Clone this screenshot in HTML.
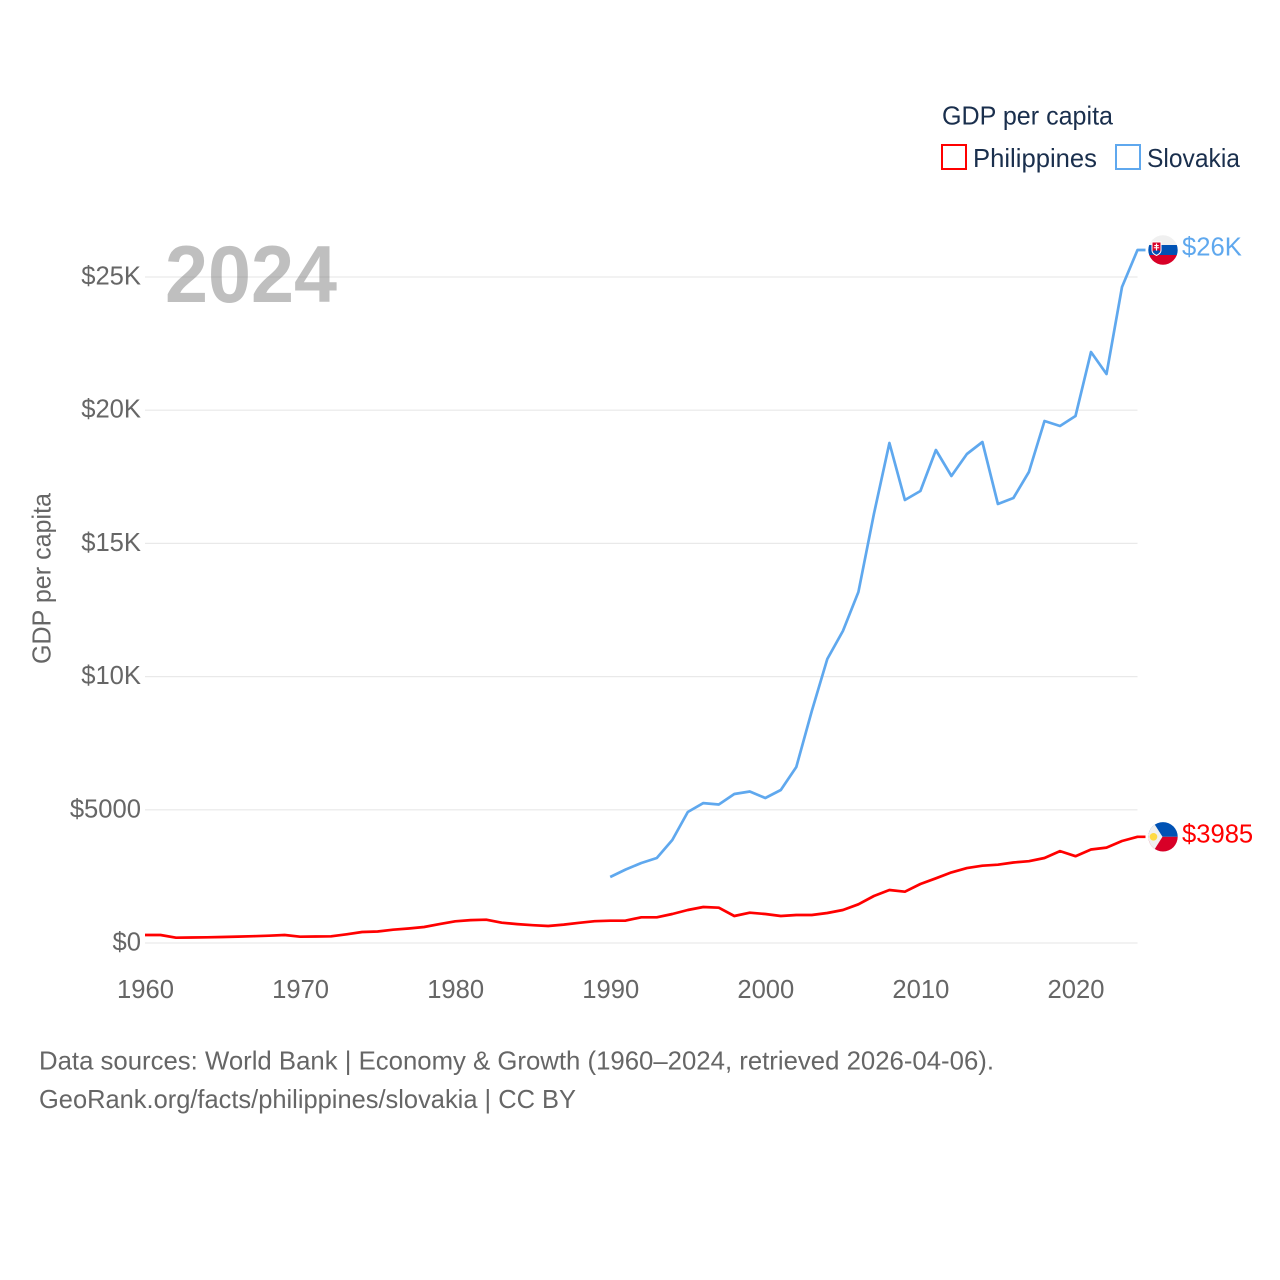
<!DOCTYPE html>
<html lang="en">
<head>
<meta charset="utf-8">
<title>GDP per capita: Philippines and Slovakia</title>
<style>
html,body{margin:0;padding:0;background:#fff;}
svg{display:block;font-family:"Liberation Sans",sans-serif;}
</style>
</head>
<body>
<svg id="chart" xmlns="http://www.w3.org/2000/svg" width="1280" height="1280" viewBox="0 0 1280 1280">
  <rect width="1280" height="1280" fill="#ffffff"/>
  <g id="grid"></g>
  <text x="165" y="302" font-size="81" font-weight="700" fill="#7f7f7f" fill-opacity="0.5" textLength="172" lengthAdjust="spacingAndGlyphs">2024</text>
  <g id="y-ticks"></g>
  <g id="x-ticks"></g>
  <text transform="translate(50.5,578.5) rotate(-90)" text-anchor="middle" font-size="25.6" fill="#666666" textLength="171" lengthAdjust="spacingAndGlyphs">GDP per capita</text>
  <g id="series"></g>
  <g>
    <text x="942" y="124.5" font-size="25.6" fill="#1a2f4d" textLength="171" lengthAdjust="spacingAndGlyphs">GDP per capita</text>
    <rect x="942" y="145" width="24" height="24" fill="#ffffff" stroke="#ff0000" stroke-width="2"/>
    <text x="973" y="167" font-size="25.6" fill="#1a2f4d" textLength="124" lengthAdjust="spacingAndGlyphs">Philippines</text>
    <rect x="1116" y="145" width="24" height="24" fill="#ffffff" stroke="#5fa8ee" stroke-width="2"/>
    <text x="1147" y="167" font-size="25.6" fill="#1a2f4d" textLength="93" lengthAdjust="spacingAndGlyphs">Slovakia</text>
  </g>
  <g>
    <text x="39" y="1069.5" font-size="25.6" fill="#666666" textLength="955" lengthAdjust="spacingAndGlyphs">Data sources: World Bank | Economy &amp; Growth (1960–2024, retrieved 2026-04-06).</text>
    <text x="39" y="1108" font-size="25.6" fill="#666666" textLength="537" lengthAdjust="spacingAndGlyphs">GeoRank.org/facts/philippines/slovakia | CC BY</text>
  </g>
</svg>
<script>
const philippinesStartYear = 1960;
const philippinesValues = [300,300,200,208,215,225,240,255,275,300,235,245,251,326,413,430,500,545,600,710,815,860,875,762,710,670,640,690,760,820,837,840,965,965,1089,1239,1351,1325,1014,1137,1089,1014,1051,1051,1126,1239,1453,1764,1989,1926,2215,2430,2650,2810,2900,2940,3020,3070,3190,3450,3260,3510,3580,3830,3985];
const slovakiaStartYear = 1990;
const slovakiaValues = [2477,2760,3003,3191,3866,4917,5250,5199,5593,5687,5443,5743,6607,8709,10661,11712,13176,16104,18769,16629,16967,18506,17530,18356,18806,16479,16704,17680,19595,19407,19782,22185,21359,24625,26014];
const yTickValues = [0,5000,10000,15000,20000,25000];
const yTickLabels = ['$0','$5000','$10K','$15K','$20K','$25K'];
const xTickYears = [1960,1970,1980,1990,2000,2010,2020];

const NS = 'http://www.w3.org/2000/svg';
function xScale(year){ return 145 + (year - 1960) * (992.5 / 64); }
function yScale(value){ return 943 - value * (666 / 25000); }
function make(tag, parent, attrs){
  const el = document.createElementNS(NS, tag);
  for (const k in attrs) el.setAttribute(k, attrs[k]);
  parent.appendChild(el);
  return el;
}
function formatValue(v){ return v >= 10000 ? '$' + Math.round(v / 1000) + 'K' : '$' + Math.round(v); }

const grid = document.getElementById('grid');
const yTicks = document.getElementById('y-ticks');
yTickValues.forEach(function(v, i){
  const line = make('line', grid, {x1:145, x2:1137.5, y1:yScale(v), y2:yScale(v), stroke:'#e9e9e9', 'stroke-width':1.2});
  
  
  const t = make('text', yTicks, {x:141, y:yScale(v) + 7.5, 'text-anchor':'end', 'font-size':25.6, fill:'#666666'});
  
  
  t.textContent = yTickLabels[i];
});

const xTicks = document.getElementById('x-ticks');
xTickYears.forEach(function(y){
  const t = make('text', xTicks, {x:xScale(y) + 0.5, y:998, 'text-anchor':'middle', 'font-size':25.6, fill:'#666666'});
  
  
  t.textContent = y;
});

const seriesGroup = document.getElementById('series');
function drawLine(values, startYear, color, width){
  const pts = values.map(function(v, i){ return xScale(startYear + i).toFixed(1) + ',' + yScale(v).toFixed(1); });
  const lastY = yScale(values[values.length - 1]).toFixed(1);
  pts.push((xScale(2024) + 8).toFixed(1) + ',' + lastY);
  return make('polyline', seriesGroup, {points:pts.join(' '), fill:'none', stroke:color, 'stroke-width':width, 'stroke-linejoin':'round'});
}
const phLine = drawLine(philippinesValues, philippinesStartYear, '#ff0000', 2.7);


const skLine = drawLine(slovakiaValues, slovakiaStartYear, '#5fa8ee', 2.7);



function flagGroup(lastValue, clipId){
  const cy = yScale(lastValue);
  const g = make('g', seriesGroup, {transform:'translate(1163,' + cy.toFixed(1) + ')'});
  const clip = make('clipPath', g, {id:clipId});
  make('circle', clip, {r:14.7});
  return make('g', g, {'clip-path':'url(#' + clipId + ')'});
}
function endLabel(lastValue, color){
  const t = make('text', seriesGroup, {x:1182, y:yScale(lastValue) + 5.5, 'font-size':25.6, fill:color});
  t.textContent = formatValue(lastValue);
  return t;
}

/* Slovakia flag */
const sk = flagGroup(slovakiaValues[slovakiaValues.length - 1], 'clip-sk');


make('rect', sk, {x:-15, y:-15, width:30, height:10.5, fill:'#f0f0f0'});
make('rect', sk, {x:-15, y:-5, width:30, height:10, fill:'#0052b4'});
make('rect', sk, {x:-15, y:5, width:30, height:10, fill:'#d80027'});
make('path', sk, {d:'M-11.5,-8.5 H-1.5 V0 C-1.5,3.5 -4.5,5 -6.5,6 C-8.5,5 -11.5,3.5 -11.5,0 Z', fill:'#ffffff'});
make('path', sk, {d:'M-10.5,-7.5 H-2.5 V0 C-2.5,2.8 -5,4 -6.5,4.8 C-8,4 -10.5,2.8 -10.5,0 Z', fill:'#d80027'});
make('path', sk, {d:'M-10.2,1.5 C-9,0 -8,0 -6.5,1 C-5,0 -4,0 -2.8,1.5 C-3.3,3 -5,4 -6.5,4.8 C-8,4 -9.7,3 -10.2,1.5 Z', fill:'#0052b4'});
make('path', sk, {d:'M-7.1,-6.5 H-5.9 V-5 H-4.3 V-3.9 H-5.9 V-2.8 H-3.8 V-1.7 H-5.9 V0.6 H-7.1 V-1.7 H-9.2 V-2.8 H-7.1 V-3.9 H-8.7 V-5 H-7.1 Z', fill:'#ffffff'});
const skLabel = endLabel(slovakiaValues[slovakiaValues.length - 1], '#5fa8ee');



/* Philippines flag */
const ph = flagGroup(philippinesValues[philippinesValues.length - 1], 'clip-ph');


make('rect', ph, {x:-15, y:-15, width:30, height:15, fill:'#0052b4'});
make('rect', ph, {x:-15, y:0, width:30, height:15, fill:'#d80027'});
make('path', ph, {d:'M-15,-15 L-10,-15 L-0.5,0 L-10,15 L-15,15 Z', fill:'#f0f0f0'});
make('circle', ph, {cx:-9.5, cy:0, r:3.8, fill:'#ffda44'});
const phLabel = endLabel(philippinesValues[philippinesValues.length - 1], '#ff0000');


</script>
</body>
</html>
